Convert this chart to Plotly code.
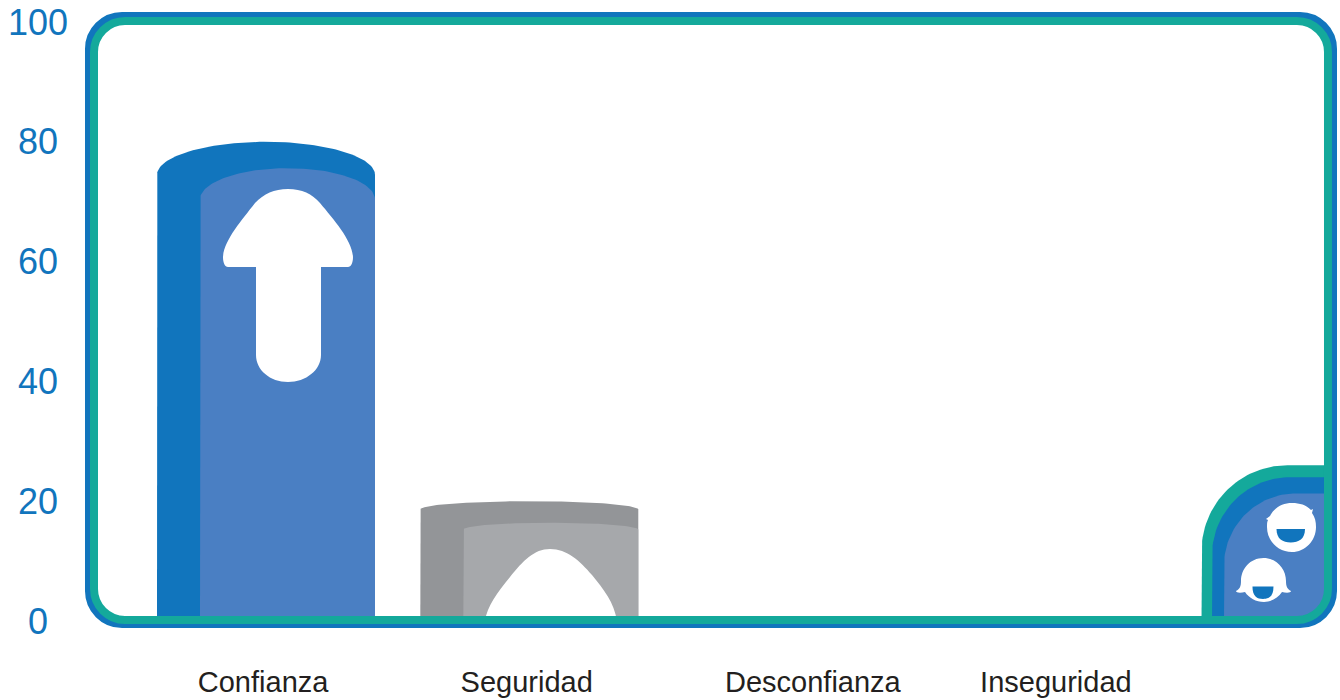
import numpy as np
import plotly.graph_objects as go

# --- data ---
CATEGORIES = ["Confianza", "Seguridad", "Desconfianza", "Inseguridad", ""]
BACK_VALUES = [80, 20, 0, 0, 24]
FRONT_VALUES = [75.6, 16.4, 0, 0, 21.3]
EDGE_VALUE = 26
Y_TICKS = [0, 20, 40, 60, 80, 100]

# --- style ---
BLUE = "#1175bd"
BLUE_LIGHT = "#4a7fc3"
TEAL = "#14a99b"
GRAY = "#939598"
GRAY_LIGHT = "#a6a8ab"
TEXT = "#231f20"
FONT = "Liberation Sans, Arial, sans-serif"

# plot area in page pixels, one slot is one column step
PLOT_L, PLOT_R, PLOT_T, PLOT_B = 85, 1330, 22, 621
SLOT0_PX, SLOT_PX = 266.0, 263.3
TICK_NUDGE = [-0.011, -0.01, 0.077, 0.0, 0.0]
BACK_HALF = 109 / SLOT_PX
FRONT_SHIFT = 43 / SLOT_PX
CAP_RATIO = 0.069


def slot(px):
    return (px - SLOT0_PX) / SLOT_PX


def units(px):
    return px * 100 / (PLOT_B - PLOT_T)


def column(left, right, value, cap):
    # column with an elliptical top
    t = np.linspace(np.pi, 0, 80)
    mid, half = (left + right) / 2, (right - left) / 2
    xs = np.concatenate([[left], mid + half * np.cos(t), [right]])
    ys = np.concatenate([[0], value - cap + cap * np.sin(t), [0]])
    return xs, ys


def corner_column(left, right, value, radius_px):
    # last column: top left corner rounded, bottom right follows the frame corner
    t = np.linspace(np.pi, np.pi / 2, 40)
    rx, ry = radius_px / SLOT_PX, units(radius_px)
    bend = np.linspace(0, -np.pi / 2, 20)
    bend_rx, bend_ry = 29 / SLOT_PX, units(29)
    xs = np.concatenate([[left], left + rx + rx * np.cos(t), right - bend_rx + bend_rx * np.cos(bend)])
    ys = np.concatenate([[0], value - ry + ry * np.sin(t), units(PLOT_B - 620) + bend_ry + bend_ry * np.sin(bend)])
    xs = np.concatenate([xs[:41], [right], xs[41:], [left]])
    ys = np.concatenate([ys[:41], [value], ys[41:], [0]])
    return xs, ys


def add_area(fig, xs, ys, color):
    fig.add_trace(go.Scatter(x=xs, y=ys, mode="lines", fill="toself", fillcolor=color,
                             line={"width": 0, "color": color}, hoverinfo="skip", showlegend=False))


def px_path(*cmds):
    # SVG path from page pixels to paper coordinates
    out = []
    for cmd in cmds:
        nums = cmd[1:]
        pts = []
        for i in range(0, len(nums), 2):
            pts.append(f"{(nums[i] - PLOT_L) / (PLOT_R - PLOT_L):.5f},{1 - (nums[i + 1] - PLOT_T) / (PLOT_B - PLOT_T):.5f}")
        out.append(cmd[0] + " ".join(pts))
    return " ".join(out) + " Z"


def glyph(path, color="white"):
    return {"type": "path", "xref": "paper", "yref": "paper", "path": path,
            "fillcolor": color, "line": {"width": 0}, "layer": "above"}


def rounded_rect(l, t, r, b, rad):
    k = rad * 0.45
    return px_path(("M", l + rad, t), ("L", r - rad, t), ("C", r - k, t, r, t + k, r, t + rad),
                   ("L", r, b - rad), ("C", r, b - k, r - k, b, r - rad, b),
                   ("L", l + rad, b), ("C", l + k, b, l, b - k, l, b - rad),
                   ("L", l, t + rad), ("C", l, t + k, l + k, t, l + rad, t))


def half_disc(l, r, top, bottom):
    k = (r - l) * 0.22
    return px_path(("M", l, top), ("L", r, top), ("C", r, top + 10, r - k, bottom, (l + r) / 2, bottom),
                   ("C", l + k, bottom, l, top + 10, l, top))


fig = go.Figure()

for i, (back, front) in enumerate(zip(BACK_VALUES[:2], FRONT_VALUES[:2])):
    dark, light = (BLUE, BLUE_LIGHT) if i == 0 else (GRAY, GRAY_LIGHT)
    add_area(fig, *column(i - BACK_HALF, i + BACK_HALF, back, back * CAP_RATIO), dark)
    add_area(fig, *column(i - BACK_HALF + FRONT_SHIFT, i + BACK_HALF, front, front * CAP_RATIO), light)

right_end = slot(1328)
add_area(fig, *corner_column(slot(1201.5), right_end, EDGE_VALUE, 86), TEAL)
add_area(fig, *corner_column(slot(1212), right_end, BACK_VALUES[4], 78), BLUE)
add_area(fig, *corner_column(slot(1224), right_end, FRONT_VALUES[4], 72), BLUE_LIGHT)

shapes = [
    # arrow in the first column
    glyph(px_path(("M", 288, 189), ("C", 302, 189, 312, 194, 320, 203), ("C", 334, 220, 352, 240, 353, 257),
                  ("C", 353, 263, 351, 267, 348, 267), ("L", 321, 267), ("L", 321, 355),
                  ("C", 321, 370, 306, 382, 288, 382), ("C", 270, 382, 256, 370, 256, 355),
                  ("L", 256, 267), ("L", 228, 267), ("C", 225, 267, 223, 263, 223, 257),
                  ("C", 224, 240, 242, 220, 255, 203), ("C", 264, 194, 274, 189, 288, 189))),
    # hump in the second column
    glyph(px_path(("M", 485, 621), ("C", 487, 606, 498, 592, 510, 577), ("C", 523, 561, 534, 549, 550, 549),
                  ("C", 567, 549, 580, 561, 592, 575), ("C", 604, 590, 614, 602, 617, 621))),
    # two faces in the corner
    glyph(px_path(("M", 1292, 503), ("C", 1300, 503, 1306, 505, 1311, 510), ("L", 1313, 509), ("L", 1312, 513),
                  ("C", 1315, 517, 1316, 522, 1316, 527), ("C", 1316, 541, 1305, 552, 1292, 552),
                  ("C", 1278, 552, 1267, 541, 1267, 527), ("C", 1267, 524, 1267, 522, 1268, 520),
                  ("L", 1266, 519), ("L", 1270, 516), ("C", 1274, 508, 1282, 503, 1292, 503))),
    glyph(half_disc(1276.5, 1305, 529, 542.5), BLUE),
    glyph(px_path(("M", 1263.5, 558), ("C", 1277, 558, 1286, 569, 1286, 581), ("C", 1286, 586, 1287, 589, 1291, 591),
                  ("C", 1291, 593, 1286, 593, 1282, 592), ("C", 1278, 598, 1271, 602, 1264, 602),
                  ("C", 1256, 602, 1249, 598, 1245, 592), ("C", 1241, 593, 1236, 593, 1236, 591),
                  ("C", 1240, 589, 1241, 586, 1241, 581), ("C", 1241, 569, 1250, 558, 1263.5, 558))),
    glyph(half_disc(1252.5, 1273.5, 586.5, 599), BLUE),
]
# frame on top of everything: blue runs under the teal so no gap shows between them
for rect, color, width, rad in [((89, 16, 1333, 624), BLUE, 8, 33), ((94, 21, 1328, 620), TEAL, 8, 31)]:
    shapes.append({"type": "path", "xref": "paper", "yref": "paper", "layer": "above",
                   "path": rounded_rect(*rect, rad),
                   "line": {"color": color, "width": width}, "fillcolor": "rgba(0,0,0,0)"})

annotations = [
    {"x": (37.5 - PLOT_L) / (PLOT_R - PLOT_L), "xref": "paper", "y": v, "yref": "y", "text": str(v),
     "showarrow": False, "xanchor": "center", "yanchor": "middle",
     "font": {"family": FONT, "size": 36, "color": BLUE}}
    for v in Y_TICKS
]

fig.update_layout(
    width=1340,
    height=700,
    margin={"l": PLOT_L, "r": 1340 - PLOT_R, "t": PLOT_T, "b": 700 - PLOT_B, "pad": 0, "autoexpand": False},
    paper_bgcolor="white",
    plot_bgcolor="white",
    showlegend=False,
    shapes=shapes,
    annotations=annotations,
    font={"family": FONT},
)
fig.update_xaxes(
    automargin=False,
    range=[slot(PLOT_L), slot(PLOT_R)],
    tickvals=[i + n for i, n in enumerate(TICK_NUDGE)],
    ticktext=CATEGORIES,
    tickfont={"family": FONT, "size": 29, "color": TEXT},
    ticks="outside",
    ticklen=35,
    tickcolor="rgba(0,0,0,0)",
    showgrid=False,
    zeroline=False,
    showline=False,
)
fig.update_yaxes(automargin=False, range=[0, 100], tickvals=Y_TICKS, showticklabels=False, showgrid=False, zeroline=False, showline=False)

fig.write_html("out.html", config={"displayModeBar": False}, post_script="document.body.style.margin='0';")
